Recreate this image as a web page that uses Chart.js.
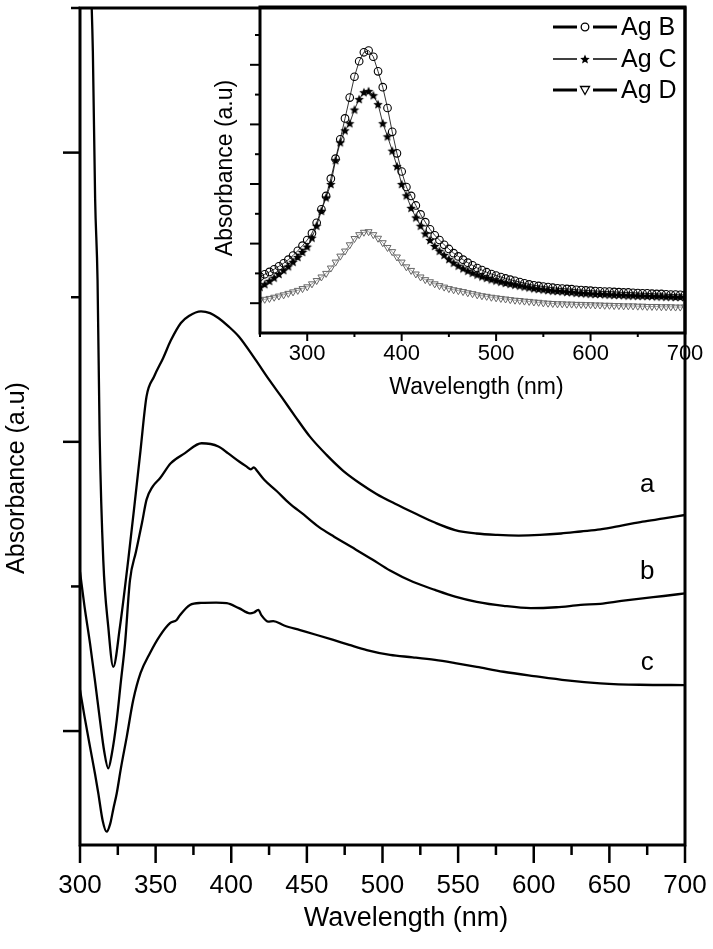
<!DOCTYPE html>
<html>
<head>
<meta charset="utf-8">
<script src="https://cdn.jsdelivr.net/npm/chart.js@4.4.0/dist/chart.umd.min.js"></script>
<style>
  body { margin: 0; background: #fff; }
  #wrap { position: relative; width: 713px; height: 949px; }
  #wrap canvas { position: absolute; left: 0; top: 0; }
</style>
</head>
<body>
<div id="wrap">
  <canvas id="mainChart" width="713" height="949"></canvas>
  <canvas id="insetChart" width="713" height="949"></canvas>
</div>
<script>
"use strict";
const FONT = "'Liberation Sans', Arial, sans-serif";

// main plot: three spectra a, b, c (wavelength in nm, absorbance a.u.)
const waveA = [307, 308.5, 310, 311.6, 313, 315.4, 318.7, 322, 326.4, 331.9, 336, 340, 344, 349, 355, 360, 366.7, 372, 380, 386, 391.5, 398, 405, 416, 425, 433, 442, 452, 463, 474, 485, 496, 508, 521, 535, 548, 562, 576, 590, 604, 618, 631, 644, 658, 672, 686, 700];
const absA = [3.62, 3.35, 2.84, 2.56, 2.02, 1.59, 1.36, 1.222, 1.36, 1.592, 1.78, 1.97, 2.157, 2.226, 2.29, 2.35, 2.411, 2.435, 2.451, 2.445, 2.428, 2.40, 2.364, 2.284, 2.215, 2.157, 2.09, 2.018, 1.955, 1.90, 1.857, 1.82, 1.787, 1.754, 1.72, 1.695, 1.683, 1.678, 1.676, 1.678, 1.683, 1.69, 1.697, 1.71, 1.724, 1.735, 1.747];

const waveB = [300, 303, 306.6, 310, 313.2, 316, 318.7, 321, 324.3, 327, 329.8, 333, 337, 341, 344, 348, 353, 360, 369.4, 380.4, 391.5, 398, 405.2, 410, 413, 415, 417, 421.8, 430, 438.3, 448, 457.6, 468, 479.6, 493, 505, 520, 534.7, 548, 562.3, 580, 598, 615, 631, 644, 658, 672, 686, 700];
const absB = [1.55, 1.43, 1.304, 1.17, 1.038, 0.93, 0.871, 0.92, 1.038, 1.17, 1.304, 1.52, 1.62, 1.72, 1.80, 1.845, 1.875, 1.926, 1.961, 1.995, 1.984, 1.96, 1.932, 1.915, 1.905, 1.912, 1.90, 1.869, 1.83, 1.788, 1.748, 1.707, 1.672, 1.636, 1.594, 1.555, 1.516, 1.488, 1.465, 1.447, 1.433, 1.425, 1.428, 1.436, 1.44, 1.45, 1.459, 1.467, 1.476];

const waveC = [300, 303, 306.6, 310, 312.1, 315, 317.6, 320, 322, 324.3, 327, 330.9, 335.2, 340, 346.3, 352.9, 359.5, 363.9, 366, 372.7, 380, 390, 397, 405, 412.4, 415, 417.9, 420, 424.5, 427.8, 435, 445.5, 456, 467.5, 478, 489.6, 505, 520, 534.7, 548, 562.3, 580, 600, 622, 644, 670, 700];
const absC = [1.142, 1.05, 0.946, 0.85, 0.785, 0.69, 0.652, 0.68, 0.73, 0.785, 0.87, 0.98, 1.107, 1.2, 1.27, 1.33, 1.373, 1.384, 1.40, 1.436, 1.443, 1.444, 1.442, 1.425, 1.407, 1.41, 1.419, 1.40, 1.378, 1.38, 1.365, 1.349, 1.333, 1.315, 1.298, 1.28, 1.263, 1.255, 1.246, 1.235, 1.222, 1.205, 1.19, 1.175, 1.165, 1.16, 1.159];

const mainXTicks = [300, 325, 350, 375, 400, 425, 450, 475, 500, 525, 550, 575, 600, 625, 650, 675, 700];
const mainYTicks = [1, 1.5, 2, 2.5, 3, 3.5];
const curveLabels = [
  { text: "a", wave: 675, abs: 1.85 },
  { text: "b", wave: 675, abs: 1.55 },
  { text: "c", wave: 675, abs: 1.235 }
];

// inset: Ag B, Ag C, Ag D
const insetWave = [250, 255, 260, 265, 270, 275, 280, 285, 290, 295, 300, 305, 310, 315, 320, 325, 330, 335, 340, 345, 350, 355, 360, 365, 370, 375, 380, 385, 390, 395, 400, 405, 410, 415, 420, 425, 430, 435, 440, 445, 450, 455, 460, 465, 470, 475, 480, 485, 490, 495, 500, 505, 510, 515, 520, 525, 530, 535, 540, 545, 550, 555, 560, 565, 570, 575, 580, 585, 590, 595, 600, 605, 610, 615, 620, 625, 630, 635, 640, 645, 650, 655, 660, 665, 670, 675, 680, 685, 690, 695, 700];
const agB = [1.89, 1.97, 2.05, 2.14, 2.24, 2.34, 2.46, 2.6, 2.76, 2.93, 3.12, 3.35, 3.7, 4.15, 4.6, 5.18, 5.85, 6.5, 7.2, 7.9, 8.6, 9.12, 9.42, 9.48, 9.27, 8.78, 8.25, 7.55, 6.75, 6.03, 5.42, 4.9, 4.6, 4.28, 3.98, 3.72, 3.48, 3.28, 3.12, 2.96, 2.82, 2.68, 2.57, 2.46, 2.36, 2.27, 2.18, 2.11, 2.04, 1.98, 1.93, 1.88, 1.83, 1.79, 1.75, 1.71, 1.67, 1.63, 1.6, 1.58, 1.56, 1.54, 1.52, 1.5, 1.49, 1.48, 1.47, 1.45, 1.44, 1.43, 1.42, 1.41, 1.4, 1.39, 1.39, 1.38, 1.37, 1.36, 1.36, 1.35, 1.34, 1.33, 1.33, 1.32, 1.31, 1.31, 1.3, 1.29, 1.29, 1.28, 1.28];
const agC = [1.55, 1.64, 1.75, 1.86, 1.98, 2.11, 2.24, 2.39, 2.55, 2.72, 2.9, 3.2, 3.6, 4.1, 4.55, 5.0, 5.8, 6.4, 6.8, 7.04, 7.5, 7.85, 8.08, 8.12, 7.98, 7.68, 7.04, 6.6, 6.12, 5.6, 5.0, 4.62, 4.2, 3.88, 3.6, 3.34, 3.12, 2.92, 2.76, 2.62, 2.48, 2.36, 2.26, 2.17, 2.09, 2.02, 1.96, 1.9, 1.85, 1.8, 1.76, 1.72, 1.68, 1.65, 1.62, 1.59, 1.56, 1.53, 1.5, 1.48, 1.46, 1.44, 1.42, 1.41, 1.4, 1.38, 1.37, 1.35, 1.34, 1.33, 1.32, 1.31, 1.31, 1.3, 1.29, 1.28, 1.28, 1.27, 1.26, 1.26, 1.25, 1.25, 1.24, 1.24, 1.23, 1.23, 1.22, 1.22, 1.21, 1.21, 1.21];
const agD = [1.1, 1.13, 1.16, 1.2, 1.24, 1.28, 1.33, 1.38, 1.43, 1.49, 1.55, 1.65, 1.76, 1.88, 2.0, 2.18, 2.38, 2.58, 2.75, 2.96, 3.17, 3.3, 3.38, 3.4, 3.3, 3.18, 3.03, 2.87, 2.73, 2.55, 2.38, 2.22, 2.1, 1.98, 1.88, 1.79, 1.72, 1.65, 1.59, 1.54, 1.49, 1.45, 1.42, 1.39, 1.35, 1.32, 1.28, 1.25, 1.23, 1.2, 1.18, 1.16, 1.14, 1.12, 1.1, 1.09, 1.07, 1.06, 1.04, 1.03, 1.01, 1.0, 0.99, 0.98, 0.98, 0.97, 0.97, 0.96, 0.96, 0.95, 0.95, 0.94, 0.94, 0.93, 0.93, 0.92, 0.92, 0.91, 0.91, 0.91, 0.9, 0.9, 0.89, 0.89, 0.89, 0.88, 0.88, 0.88, 0.87, 0.87, 0.87];
const insetXTicks = [250, 300, 350, 400, 450, 500, 550, 600, 650, 700];
const insetYTicks = [1, 2, 3, 4, 5, 6, 7, 8, 9, 10];
const insetNames = ["Ag B", "Ag C", "Ag D"];

function toPoints(xs, ys) {
  return xs.map((x, i) => ({ x: x, y: ys[i] }));
}

// filled five-point star used as marker for Ag C
function makeStar(r) {
  const c = document.createElement("canvas");
  const s = Math.ceil(r * 2) + 2;
  c.width = c.height = s;
  const g = c.getContext("2d");
  g.translate(s / 2, s / 2 + 0.5);
  g.beginPath();
  for (let i = 0; i < 10; i++) {
    const rad = i % 2 === 0 ? r : r * 0.45;
    const a = -Math.PI / 2 + i * Math.PI / 5;
    g.lineTo(rad * Math.cos(a), rad * Math.sin(a));
  }
  g.closePath();
  g.fillStyle = "#000";
  g.fill();
  return c;
}
const starImg = makeStar(5);

function line(ctx, x1, y1, x2, y2) {
  ctx.beginPath();
  ctx.moveTo(x1, y1);
  ctx.lineTo(x2, y2);
  ctx.stroke();
}

const mainDecor = {
  id: "mainDecor",
  afterDraw(chart) {
    const { ctx, chartArea: ca } = chart;
    const x = chart.scales.x, y = chart.scales.y;
    ctx.save();
    ctx.strokeStyle = "#000";
    ctx.lineWidth = 3;
    ctx.strokeRect(ca.left, ca.top, ca.right - ca.left, ca.bottom - ca.top);
    ctx.lineWidth = 2.5;
    mainXTicks.forEach(v => {
      const px = x.getPixelForValue(v);
      line(ctx, px, ca.bottom, px, ca.bottom + (v % 50 === 0 ? 18 : 10));
    });
    mainYTicks.forEach(v => {
      const py = y.getPixelForValue(v);
      line(ctx, ca.left - (Number.isInteger(v) ? 17 : 9), py, ca.left, py);
    });
    ctx.fillStyle = "#000";
    ctx.textAlign = "center";
    ctx.textBaseline = "middle";
    ctx.font = "26px " + FONT;
    curveLabels.forEach(l => {
      ctx.fillText(l.text, x.getPixelForValue(l.wave), y.getPixelForValue(l.abs));
    });
    ctx.font = "27px " + FONT;
    ctx.fillText("Wavelength (nm)", 406, 919);
    ctx.translate(17, 478);
    ctx.rotate(-Math.PI / 2);
    ctx.font = "25px " + FONT;
    ctx.fillText("Absorbance (a.u)", 0, 0);
    ctx.restore();
  }
};

new Chart(document.getElementById("mainChart"), {
  type: "line",
  data: {
    datasets: [
      { label: "a", data: toPoints(waveA, absA) },
      { label: "b", data: toPoints(waveB, absB) },
      { label: "c", data: toPoints(waveC, absC) }
    ]
  },
  options: {
    responsive: false,
    animation: false,
    devicePixelRatio: 1,
    layout: { padding: { left: 0, top: 8, right: 28, bottom: 0 } },
    elements: {
      line: { borderColor: "#000", borderWidth: 2.3, cubicInterpolationMode: "monotone" },
      point: { radius: 0 }
    },
    plugins: { legend: { display: false }, tooltip: { enabled: false } },
    scales: {
      x: {
        type: "linear", min: 300, max: 700,
        afterBuildTicks: s => { s.ticks = mainXTicks.map(v => ({ value: v })); },
        afterFit: s => { s.height = 104; s.paddingLeft = 0; s.paddingRight = 0; },
        grid: { display: false, drawTicks: false },
        border: { display: false },
        ticks: {
          autoSkip: false, maxRotation: 0, padding: 25, color: "#000",
          font: { family: FONT, size: 26 },
          callback: v => (v % 50 === 0 ? String(v) : "")
        }
      },
      y: {
        type: "linear", min: 0.606, max: 3.5,
        afterBuildTicks: s => { s.ticks = mainYTicks.map(v => ({ value: v })); },
        afterFit: s => { s.width = 80; s.paddingTop = 0; s.paddingBottom = 0; },
        grid: { display: false, drawTicks: false },
        border: { display: false },
        ticks: { display: false }
      }
    }
  },
  plugins: [mainDecor]
});

const insetDecor = {
  id: "insetDecor",
  afterDraw(chart) {
    const { ctx, chartArea: ca } = chart;
    const x = chart.scales.x, y = chart.scales.y;
    ctx.save();
    ctx.strokeStyle = "#000";
    ctx.lineWidth = 3;
    ctx.strokeRect(ca.left, ca.top, ca.right - ca.left, ca.bottom - ca.top);
    ctx.lineWidth = 2;
    insetXTicks.forEach(v => {
      const px = x.getPixelForValue(v);
      line(ctx, px, ca.bottom, px, ca.bottom + (v % 100 === 0 ? 8 : 4));
    });
    insetYTicks.forEach(v => {
      const py = y.getPixelForValue(v);
      line(ctx, ca.left - (v % 2 === 1 ? 10 : 5), py, ca.left, py);
    });
    ctx.fillStyle = "#000";
    ctx.textAlign = "center";
    ctx.textBaseline = "middle";
    ctx.font = "23px " + FONT;
    ctx.fillText("Wavelength (nm)", (ca.left + ca.right) / 2 + 4, 388);
    ctx.save();
    ctx.translate(226, 168);
    ctx.rotate(-Math.PI / 2);
    ctx.font = "23px " + FONT;
    ctx.fillText("Absorbance (a.u)", 0, 0);
    ctx.restore();

    // legend: line - marker - line, then name
    const rows = [27, 59, 90];
    ctx.textAlign = "left";
    ctx.font = "25px " + FONT;
    chart.data.datasets.forEach((ds, i) => {
      const yy = rows[i];
      ctx.strokeStyle = "#000";
      ctx.lineWidth = i === 1 ? 1.5 : 3;
      line(ctx, 553, yy, 577, yy);
      line(ctx, 593, yy, 617, yy);
      ctx.lineWidth = 1.3;
      if (i === 0) {
        ctx.beginPath();
        ctx.arc(585, yy, 3.8, 0, Math.PI * 2);
        ctx.stroke();
      } else if (i === 1) {
        ctx.drawImage(starImg, 585 - starImg.width / 2, yy - starImg.height / 2);
      } else {
        ctx.beginPath();
        ctx.moveTo(580.5, yy - 3.5);
        ctx.lineTo(589.5, yy - 3.5);
        ctx.lineTo(585, yy + 4.5);
        ctx.closePath();
        ctx.stroke();
      }
      ctx.fillText(insetNames[i], 621, yy + 1);
    });
    ctx.restore();
  }
};

new Chart(document.getElementById("insetChart"), {
  type: "line",
  data: {
    datasets: [
      {
        label: insetNames[0], data: toPoints(insetWave, agB),
        borderColor: "#000", borderWidth: 0.8,
        pointStyle: "circle", pointRadius: 3.8, pointBorderWidth: 1.1,
        pointBorderColor: "#000", pointBackgroundColor: "rgba(0,0,0,0)"
      },
      {
        label: insetNames[1], data: toPoints(insetWave, agC),
        borderColor: "#000", borderWidth: 0.8,
        pointStyle: starImg, pointRadius: 5
      },
      {
        label: insetNames[2], data: toPoints(insetWave, agD),
        borderColor: "#888", borderWidth: 0.8,
        pointStyle: "triangle", pointRotation: 180, pointRadius: 4, pointBorderWidth: 1,
        pointBorderColor: "#666", pointBackgroundColor: "rgba(0,0,0,0)"
      }
    ]
  },
  options: {
    responsive: false,
    animation: false,
    devicePixelRatio: 1,
    layout: { padding: { left: 260, top: 7, right: 28, bottom: 0 } },
    plugins: { legend: { display: false }, tooltip: { enabled: false } },
    scales: {
      x: {
        type: "linear", min: 250, max: 700,
        afterBuildTicks: s => { s.ticks = insetXTicks.map(v => ({ value: v })); },
        afterFit: s => { s.height = 949 - 333; s.paddingLeft = 0; s.paddingRight = 0; },
        grid: { display: false, drawTicks: false },
        border: { display: false },
        ticks: {
          autoSkip: false, maxRotation: 0, padding: 8, color: "#000",
          font: { family: FONT, size: 22 },
          callback: v => (v % 100 === 0 ? String(v) : "")
        }
      },
      y: {
        type: "linear", min: 0, max: 10.94,
        afterBuildTicks: s => { s.ticks = insetYTicks.map(v => ({ value: v })); },
        afterFit: s => { s.width = 0; s.paddingTop = 0; s.paddingBottom = 0; },
        grid: { display: false, drawTicks: false },
        border: { display: false },
        ticks: { display: false }
      }
    }
  },
  plugins: [insetDecor]
});
</script>
</body>
</html>
